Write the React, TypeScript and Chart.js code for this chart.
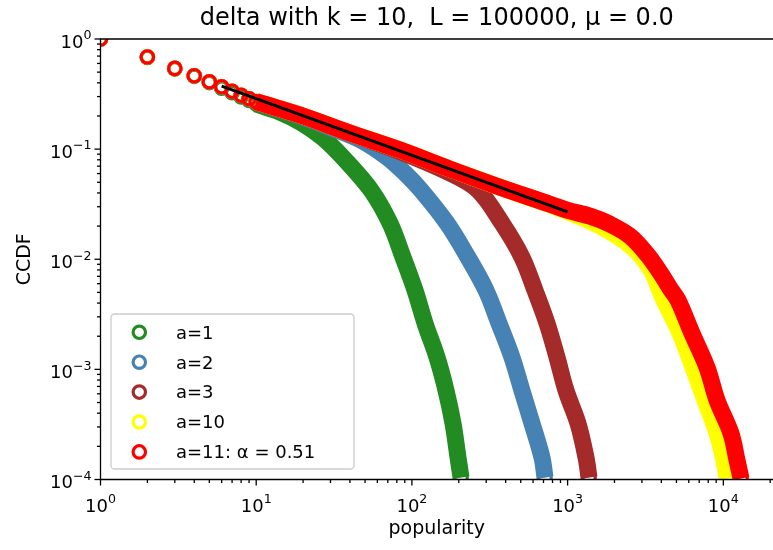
import React, { useEffect, useRef } from "react";
import { Chart, registerables } from "chart.js";

Chart.register(...registerables);

// ---------------- data ----------------
const TITLE = "delta with k = 10,  L = 100000, μ = 0.0";
const X_LABEL = "popularity";
const Y_LABEL = "CCDF";
const X_TICK_EXPONENTS = [0, 1, 2, 3, 4];
const Y_TICK_EXPONENTS = [0, -1, -2, -3, -4];
const X_MIN = 1;
const X_MAX = 20850;
const Y_MIN = 1e-4;
const Y_MAX = 1;

const SERIES_LABELS = ["a=1", "a=2", "a=3", "a=10", "a=11: α = 0.51"];
const SERIES_COLORS = ["#228b22", "#4682b4", "#a52a2a", "#ffff00", "#ff0000"];

const A1_X = [1, 2, 3, 4, 5, 6, 7, 8, 9, 10, 14.2, 19.7, 26.9, 37.2, 54.6, 72.3, 87.7, 104.7, 121.4, 145, 165.6, 183.7, 197.8, 206.8];
const A1_Y = [1, 0.68, 0.535, 0.458, 0.402, 0.358, 0.325, 0.298, 0.276, 0.2566, 0.217, 0.1723, 0.126, 0.08, 0.0424, 0.02125, 0.01043, 0.00523, 0.00262, 0.001285, 0.000644, 0.000323, 0.000158, 0.000104];

const A2_X = [1, 2, 3, 4, 5, 6, 7, 8, 9, 10, 19.1, 29.8, 47.1, 69.2, 90.3, 114.4, 168, 229, 299, 362.6, 439.4, 509, 590.7, 684.7, 716];
const A2_Y = [1, 0.686, 0.541, 0.464, 0.408, 0.367, 0.334, 0.307, 0.286, 0.268, 0.2, 0.158, 0.1207, 0.0846, 0.0605, 0.0424, 0.02125, 0.01043, 0.00523, 0.00262, 0.001285, 0.000644, 0.000323, 0.000158, 0.000104];

const A3_X = [1, 2, 3, 4, 5, 6, 7, 8, 9, 10, 19.1, 40, 84, 176, 265.8, 379, 509, 617, 737.5, 855, 976, 1166, 1313, 1373];
const A3_Y = [1, 0.686, 0.541, 0.464, 0.409, 0.368, 0.335, 0.308, 0.287, 0.269, 0.203, 0.139, 0.095, 0.0605, 0.0424, 0.02125, 0.01043, 0.00523, 0.00262, 0.001285, 0.000644, 0.000323, 0.000158, 0.000104];

const A10_X = [1, 2, 3, 4, 5, 6, 7, 8, 9, 10, 19.1, 40, 84, 176, 368, 771, 1036, 1615, 2517, 3381, 4159, 5272, 6387, 7628, 9116, 10100, 10560];
const A10_Y = [1, 0.686, 0.541, 0.464, 0.409, 0.368, 0.335, 0.308, 0.287, 0.27, 0.204, 0.14, 0.098, 0.0658, 0.0451, 0.0313, 0.0265, 0.02, 0.0134, 0.00828, 0.00424, 0.00212, 0.00104, 0.000523, 0.000262, 0.000149, 0.000102];

const A11_X = [1, 2, 3, 4, 5, 6, 7, 8, 9, 10, 19.1, 40, 84, 176, 368, 771, 991, 1393, 1872, 2517, 3236, 3919, 4545, 5117, 6295, 7856, 9116, 11200, 12250, 13000];
const A11_Y = [1, 0.686, 0.541, 0.464, 0.409, 0.368, 0.335, 0.308, 0.287, 0.27, 0.204, 0.14, 0.098, 0.0658, 0.0451, 0.0316, 0.0279, 0.0246, 0.0208, 0.0162, 0.0111, 0.00762, 0.00545, 0.00424, 0.00212, 0.00104, 0.000523, 0.000262, 0.000149, 0.000102];

const FIT_X = [6, 1000];
const FIT_Y = [0.374, 0.0269];

const SERIES_X = [A1_X, A2_X, A3_X, A10_X, A11_X];
const SERIES_Y = [A1_Y, A2_Y, A3_Y, A10_Y, A11_Y];

// ---------------- style ----------------
const FONT = '"DejaVu Sans", sans-serif';
const TICK_FONT = 18;
const SUP_FONT = 12.6;
const SUP_RISE = 8.4;
const LABEL_FONT = 19;
const LEGEND_FONT = 18;
const BAND_START = 10; // below this popularity the markers are drawn separately
const MARKER_R = 6.2;
const MARKER_W = 3.2;
const BAND_W = 17;

function drawPow(ctx: CanvasRenderingContext2D, exp: number, x: number, y: number, align: "center" | "right") {
  const base = "10";
  const sup = exp < 0 ? "\u2212" + Math.abs(exp) : String(exp);
  ctx.font = `${TICK_FONT}px ${FONT}`;
  const wb = ctx.measureText(base).width;
  ctx.font = `${SUP_FONT}px ${FONT}`;
  const ws = ctx.measureText(sup).width;
  const total = wb + ws;
  const left = align === "center" ? x - total / 2 : x - total;
  ctx.textAlign = "left";
  ctx.textBaseline = "alphabetic";
  ctx.font = `${TICK_FONT}px ${FONT}`;
  ctx.fillText(base, left, y);
  ctx.font = `${SUP_FONT}px ${FONT}`;
  ctx.fillText(sup, left + wb, y - SUP_RISE);
}

const decorPlugin = {
  id: "decor",
  afterDatasetsDraw(chart: any) {
    const { ctx, chartArea: a, scales } = chart;
    const xs = scales.x;
    const ys = scales.y;
    ctx.save();
    ctx.fillStyle = "#000";
    ctx.strokeStyle = "#000";
    ctx.lineWidth = 1.3;
    // spines (left, bottom, top)
    ctx.beginPath();
    ctx.moveTo(a.right + 10, a.top);
    ctx.lineTo(a.left, a.top);
    ctx.lineTo(a.left, a.bottom);
    ctx.lineTo(a.right + 10, a.bottom);
    ctx.stroke();

    // x ticks
    for (let d = 0; d <= 5; d++) {
      for (let m = 1; m <= 9; m++) {
        const v = m * Math.pow(10, d);
        if (v < X_MIN || v > X_MAX) continue;
        const px = xs.getPixelForValue(v);
        const len = m === 1 ? 6 : 3.5;
        ctx.beginPath();
        ctx.moveTo(px, a.bottom);
        ctx.lineTo(px, a.bottom + len);
        ctx.stroke();
      }
    }
    // y ticks
    for (let d = -4; d <= 0; d++) {
      for (let m = 1; m <= 9; m++) {
        const v = m * Math.pow(10, d);
        if (v < Y_MIN * 0.999 || v > Y_MAX * 1.001) continue;
        const py = ys.getPixelForValue(v);
        const len = m === 1 ? 6 : 3.5;
        ctx.beginPath();
        ctx.moveTo(a.left, py);
        ctx.lineTo(a.left - len, py);
        ctx.stroke();
      }
    }
    // tick labels
    X_TICK_EXPONENTS.forEach((e) => {
      drawPow(ctx, e, xs.getPixelForValue(Math.pow(10, e)), a.bottom + 32.2, "center");
    });
    Y_TICK_EXPONENTS.forEach((e) => {
      drawPow(ctx, e, a.left - 9, ys.getPixelForValue(Math.pow(10, e)) + 8.7, "right");
    });

    // axis titles
    ctx.font = `${LABEL_FONT}px ${FONT}`;
    ctx.textAlign = "center";
    ctx.textBaseline = "alphabetic";
    ctx.fillText(X_LABEL, (a.left + a.right) / 2, a.bottom + 54);
    ctx.save();
    ctx.translate(29.5, (a.top + a.bottom) / 2);
    ctx.rotate(-Math.PI / 2);
    ctx.fillText(Y_LABEL, 0, 0);
    ctx.restore();

    // legend
    const fl = a.left + 10.5;
    const fb = a.bottom - 10.5;
    const fw = 243;
    const fh = 155;
    const ft = fb - fh;
    ctx.beginPath();
    ctx.roundRect(fl, ft, fw, fh, 3.5);
    ctx.fillStyle = "rgba(255,255,255,0.8)";
    ctx.fill();
    ctx.strokeStyle = "#cccccc";
    ctx.lineWidth = 1.3;
    ctx.stroke();
    SERIES_LABELS.forEach((lab, i) => {
      const cy = ft + 18.3 + i * 29.9;
      ctx.beginPath();
      ctx.arc(fl + 28.3, cy, MARKER_R, 0, Math.PI * 2);
      ctx.strokeStyle = SERIES_COLORS[i];
      ctx.lineWidth = MARKER_W;
      ctx.stroke();
      ctx.fillStyle = "#000";
      ctx.font = `${LEGEND_FONT}px ${FONT}`;
      ctx.textAlign = "left";
      ctx.textBaseline = "alphabetic";
      ctx.fillText(lab, fl + 65, cy + 6.3);
    });
    ctx.restore();
  },
};

export default function App() {
  const ref = useRef<HTMLCanvasElement | null>(null);
  useEffect(() => {
    if (!ref.current) return;
    const datasets: any[] = SERIES_LABELS.map((label, i) => {
      const color = SERIES_COLORS[i];
      return {
        label,
        data: SERIES_X[i].map((x, j) => ({ x, y: SERIES_Y[i][j] })),
        showLine: true,
        borderColor: color,
        borderWidth: BAND_W,
        borderCapStyle: "butt",
        borderJoinStyle: "round",
        tension: 0.35,
        segment: {
          borderColor: (c: any) => (c.p0.parsed.x < BAND_START ? "rgba(0,0,0,0)" : color),
        },
        pointRadius: MARKER_R,
        pointBorderWidth: MARKER_W,
        pointBorderColor: color,
        pointBackgroundColor: "rgba(0,0,0,0)",
        pointHoverRadius: MARKER_R,
        clip: 0,
        order: SERIES_LABELS.length - i,
      };
    });
    datasets.push({
      label: "fit",
      data: FIT_X.map((x, j) => ({ x, y: FIT_Y[j] })),
      showLine: true,
      borderColor: "#000000",
      borderWidth: 3,
      pointRadius: 0,
      clip: 0,
      order: 0,
    });
    const chart = new Chart(ref.current, {
      type: "scatter",
      data: { datasets },
      options: {
        animation: false,
        responsive: false,
        devicePixelRatio: 1,
        events: [],
        layout: { autoPadding: false, padding: { left: 100.5, right: 0, top: 0, bottom: 70.5 } },
        scales: {
          x: { type: "logarithmic", min: X_MIN, max: X_MAX, display: false },
          y: { type: "logarithmic", min: Y_MIN, max: Y_MAX, display: false },
        },
        plugins: {
          legend: { display: false },
          tooltip: { enabled: false },
          title: {
            display: true,
            text: TITLE,
            fullSize: false,
            color: "#000",
            font: { family: FONT, size: 24, weight: "normal", lineHeight: 1.0 },
            padding: { top: 7, bottom: 8 },
          },
        },
      } as any,
      plugins: [decorPlugin],
    });
    return () => chart.destroy();
  }, []);
  return (
    <div style={{ position: "fixed", left: 0, top: 0, width: 773, height: 550, background: "#fff", overflow: "hidden" }}>
      <canvas ref={ref} width={773} height={550} style={{ display: "block", width: 773, height: 550 }} />
    </div>
  );
}
